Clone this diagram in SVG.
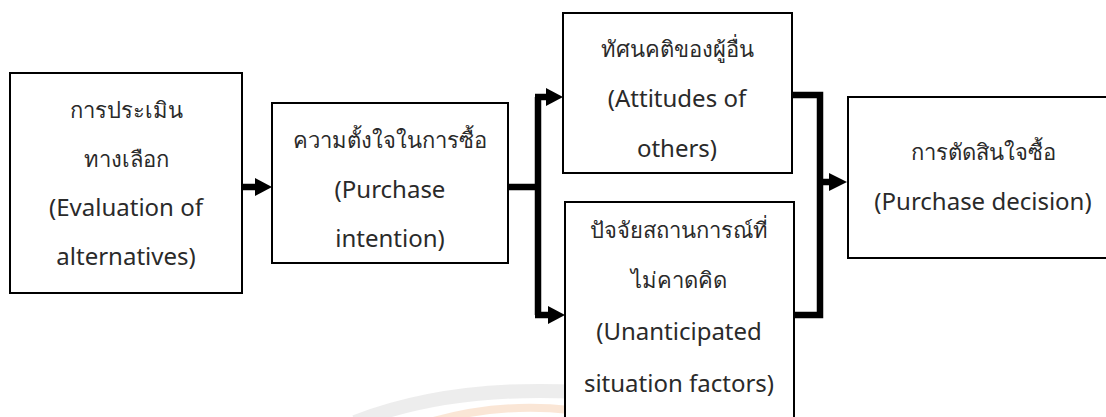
<svg xmlns="http://www.w3.org/2000/svg" width="1106" height="417" viewBox="0 0 1106 417">
<defs>
<style>
.box{fill:#fff;stroke:#000;stroke-width:2}
.t{font-family:"Noto Sans","Open Sans","DejaVu Sans",sans-serif;font-size:22px;fill:#2a2a2a;text-anchor:middle}
.e{font-size:24px}
.c{fill:none;stroke:#000;stroke-width:6.5;stroke-linejoin:miter}
.ah{fill:#000}
</style>
</defs>
<g id="watermark" fill="none" opacity="0.45">
<path d="M355 422 Q450 385 580 392" stroke="#d8d8d8" stroke-width="14"/>
<path d="M430 422 Q500 402 570 410" stroke="#f6c9a6" stroke-width="8"/>
</g>
<g id="connectors">
<path class="c" d="M242 187 H257"/>
<polygon class="ah" points="255,178 272,187 255,196"/>
<path class="c" d="M508 187 H538 M538 97 V315 M535 97 H548 M535 315 H549"/>
<polygon class="ah" points="546,88 563,97 546,106"/>
<polygon class="ah" points="548,306 565,315 548,324"/>
<path class="c" d="M792 95 H820 V315 H794 M820 182 H832"/>
<polygon class="ah" points="829,173 847,182 829,191"/>
</g>
<g id="n1">
<rect class="box" x="10" y="73" width="232" height="220"/>
<text class="t" x="126" y="118">การประเมิน</text>
<text class="t" x="126" y="167">ทางเลือก</text>
<text class="t e" x="126" y="216">(Evaluation of</text>
<text class="t e" x="126" y="265">alternatives)</text>
</g>
<g id="n2">
<rect class="box" x="272" y="103" width="236" height="160"/>
<text class="t" x="390" y="148">ความตั้งใจในการซื้อ</text>
<text class="t e" x="390" y="198">(Purchase</text>
<text class="t e" x="390" y="247">intention)</text>
</g>
<g id="n3">
<rect class="box" x="563" y="13" width="229" height="160"/>
<text class="t" x="677" y="57">ทัศนคติของผู้อื่น</text>
<text class="t e" x="677" y="107">(Attitudes of</text>
<text class="t e" x="677" y="157">others)</text>
</g>
<g id="n4">
<rect class="box" x="565" y="202" width="229" height="230"/>
<text class="t" x="679" y="238">ปัจจัยสถานการณ์ที่</text>
<text class="t" x="679" y="288">ไม่คาดคิด</text>
<text class="t e" x="679" y="340">(Unanticipated</text>
<text class="t e" x="679" y="392">situation factors)</text>
</g>
<g id="n5">
<rect class="box" x="848" y="97" width="270" height="161"/>
<text class="t" x="983" y="160">การตัดสินใจซื้อ</text>
<text class="t e" x="983" y="210">(Purchase decision)</text>
</g>
</svg>
